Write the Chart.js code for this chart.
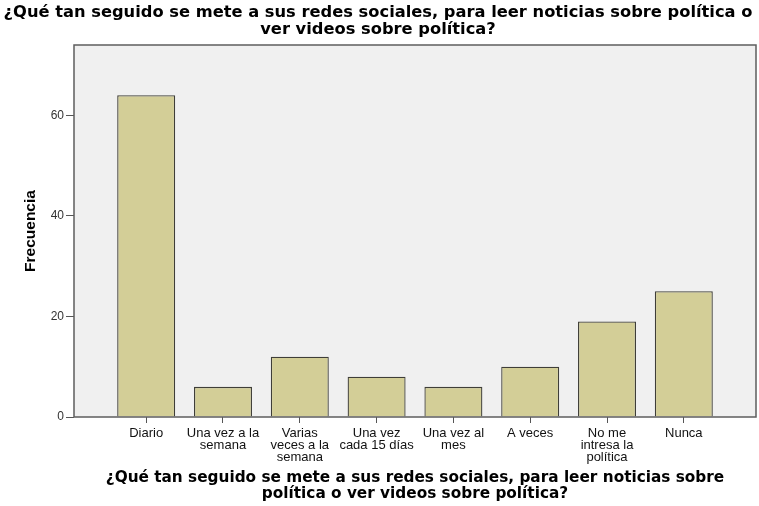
<!DOCTYPE html>
<html>
<head>
<meta charset="utf-8">
<script src="https://cdn.jsdelivr.net/npm/chart.js@4.4.1/dist/chart.umd.min.js"></script>
<style>
  body { margin: 0; background: #fff; }
  #wrap { width: 759px; height: 506px; }
</style>
</head>
<body>
<div id="wrap"><canvas id="canva" width="759" height="506"></canvas></div>
<script>
// Datos
const categorias = [
  ["Diario"],
  ["Una vez a la", "semana"],
  ["Varias", "veces a la", "semana"],
  ["Una vez", "cada 15 días"],
  ["Una vez al", "mes"],
  ["A veces"],
  ["No me", "intresa la", "política"],
  ["Nunca"]
];
const frecuencias = [64, 6, 12, 8, 6, 10, 19, 25];
const ticksY = [0, 20, 40, 60];
const titulo = ["¿Qué tan seguido se mete a sus redes sociales, para leer noticias sobre política o", "ver videos sobre política?"];
const tituloX = ["¿Qué tan seguido se mete a sus redes sociales, para leer noticias sobre", "política o ver videos sobre política?"];

// fondo gris y borde del area del grafico
const fondoPlot = {
  id: "fondoPlot",
  beforeDraw(chart) {
    const { ctx, chartArea: a } = chart;
    ctx.save();
    ctx.fillStyle = "#f0f0f0";
    ctx.fillRect(a.left, a.top, a.right - a.left, a.bottom - a.top);
    ctx.restore();
  },
  afterDraw(chart) {
    const { ctx, chartArea: a } = chart;
    ctx.save();
    ctx.strokeStyle = "#5e5e5e";
    ctx.lineWidth = 1.5;
    ctx.strokeRect(a.left, a.top, a.right - a.left, a.bottom - a.top);
    ctx.restore();
  }
};

const puntos = frecuencias.map((v, i) => ({ x: i, y: v }));

new Chart(document.getElementById("canva").getContext("2d"), {
  type: "bar",
  data: {
    datasets: [{
      label: "Frecuencia",
      data: puntos,
      backgroundColor: "#d3ce97",
      borderColor: "#3f3e38",
      borderWidth: 1.3,
      categoryPercentage: 1,
      barPercentage: 0.755
    }]
  },
  options: {
    responsive: false,
    animation: false,
    layout: { padding: { left: 0, right: 3, top: 0, bottom: 0 } },
    plugins: {
      legend: { display: false },
      tooltip: { enabled: false },
      title: {
        display: true,
        text: titulo,
        color: "#000",
        font: { family: "'DejaVu Sans'", size: 16.3, weight: "bold", lineHeight: 17 / 16.3 },
        padding: { top: 4, bottom: 7 }
      }
    },
    scales: {
      x: {
        type: "linear",
        min: -0.94,
        max: 7.94,
        offset: false,
        afterFit(scale) { scale.height = 89; },
        afterBuildTicks(scale) { scale.ticks = categorias.map((c, i) => ({ value: i })); },
        grid: { display: true, offset: false, drawOnChartArea: false, drawTicks: true, tickLength: 6, color: "#555" },
        border: { display: false },
        ticks: {
          autoSkip: false,
          maxRotation: 0,
          padding: 4,
          color: "#111",
          font: { family: "'Liberation Sans', Arial", size: 13, lineHeight: 12 / 13 },
          callback: (v) => categorias[v] || ""
        },
        title: {
          display: true,
          text: tituloX,
          color: "#000",
          font: { family: "'DejaVu Sans'", size: 15.3, weight: "bold", lineHeight: 16 / 15.3 },
          padding: { top: 0, bottom: 4 }
        }
      },
      y: {
        min: 0,
        max: 74,
        afterFit(scale) { scale.width = 74; },
        afterBuildTicks(scale) { scale.ticks = ticksY.map(v => ({ value: v })); },
        grid: { display: true, drawOnChartArea: false, drawTicks: true, tickLength: 8, color: "#555" },
        border: { display: false },
        ticks: {
          padding: 2,
          color: "#333",
          font: { family: "'Liberation Sans', Arial", size: 12 }
        },
        title: {
          display: true,
          text: "Frecuencia",
          color: "#000",
          font: { family: "'Liberation Sans', Arial", size: 15.5, weight: "bold", lineHeight: 1.2 },
          padding: { top: 21, bottom: 0 }
        }
      }
    }
  },
  plugins: [fondoPlot]
});
</script>
</body>
</html>
